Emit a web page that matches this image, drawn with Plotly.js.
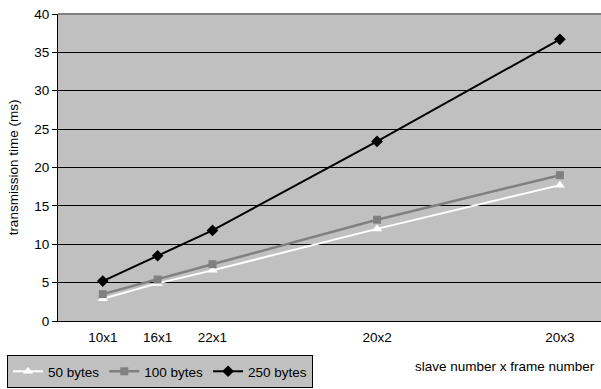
<!DOCTYPE html>
<html>
<head>
<meta charset="utf-8">
<script src="https://cdn.plot.ly/plotly-3.0.1.min.js"></script>
<style>
  html, body { margin: 0; padding: 0; background: #fff; }
  #chart { width: 601px; height: 389px; }
</style>
</head>
<body>
<div id="chart"></div>
<script>
// Configurations: slave count x frame count, placed by total frames
const configLabels = ['10x1', '16x1', '22x1', '20x2', '20x3'];
const configFrames = [10, 16, 22, 40, 60];

// Transmission time (ms) per payload size
const time50 = [2.9, 4.9, 6.6, 12.0, 17.7];
const time100 = [3.5, 5.4, 7.4, 13.2, 19.0];
const time250 = [5.2, 8.5, 11.8, 23.4, 36.7];

const seriesNames = ['50 bytes', '100 bytes', '250 bytes'];

const font = 'Liberation Sans, Arial, sans-serif';

const traces = [
  {
    x: configFrames, y: time50, name: seriesNames[0], mode: 'lines+markers',
    line: { color: '#ffffff', width: 2 },
    marker: { symbol: 'triangle-up', size: 9, color: '#ffffff' }
  },
  {
    x: configFrames, y: time100, name: seriesNames[1], mode: 'lines+markers',
    line: { color: '#808080', width: 2.5 },
    marker: { symbol: 'square', size: 8, color: '#808080' }
  },
  {
    x: configFrames, y: time250, name: seriesNames[2], mode: 'lines+markers',
    line: { color: '#000000', width: 2 },
    marker: { symbol: 'diamond', size: 9, color: '#000000' }
  }
];

const layout = {
  width: 601, height: 389,
  margin: { l: 58, r: 0, t: 14, b: 68 },
  paper_bgcolor: '#ffffff',
  plot_bgcolor: '#c0c0c0',
  font: { family: font, size: 13.5, color: '#000' },
  showlegend: true,
  legend: {
    orientation: 'h',
    x: 7 / 601, xref: 'container', xanchor: 'left',
    y: 1 - 355 / 389, yref: 'container', yanchor: 'top',
    bgcolor: '#c0c0c0', bordercolor: '#000', borderwidth: 1,
    font: { family: font, size: 13.5, color: '#000' },
    itemwidth: 30,
    traceorder: 'normal'
  },
  xaxis: {
    range: [5.1, 64.5],
    tickmode: 'array', tickvals: configFrames, ticktext: configLabels,
    showgrid: false, zeroline: false,
    showline: true, linecolor: '#000', linewidth: 1,
    ticks: 'outside', ticklen: 4, tickcolor: 'rgba(0,0,0,0)',
    tickfont: { family: font, size: 13.5 },
    fixedrange: true
  },
  yaxis: {
    range: [0, 40], dtick: 5,
    showgrid: true, gridcolor: '#000', gridwidth: 1,
    zeroline: false,
    showline: true, linecolor: '#000', linewidth: 1,
    ticks: 'outside', ticklen: 5, tickcolor: '#000',
    tickfont: { family: font, size: 13.5 },
    title: { text: 'transmission time (ms)', font: { family: font, size: 13.5 }, standoff: 12 },
    fixedrange: true
  },
  shapes: [
    { type: 'line', xref: 'paper', yref: 'paper', x0: 0, x1: 1, y0: 1, y1: 1,
      line: { color: '#808080', width: 2 } }
  ],
  annotations: [
    { text: 'slave number x frame number', xref: 'paper', yref: 'paper',
      x: 1, xanchor: 'right', xshift: -4, y: 0, yanchor: 'middle', yshift: -45,
      showarrow: false, font: { family: font, size: 13.5, color: '#000' } }
  ]
};

Plotly.newPlot('chart', traces, layout, { displayModeBar: false, staticPlot: true });
</script>
</body>
</html>
